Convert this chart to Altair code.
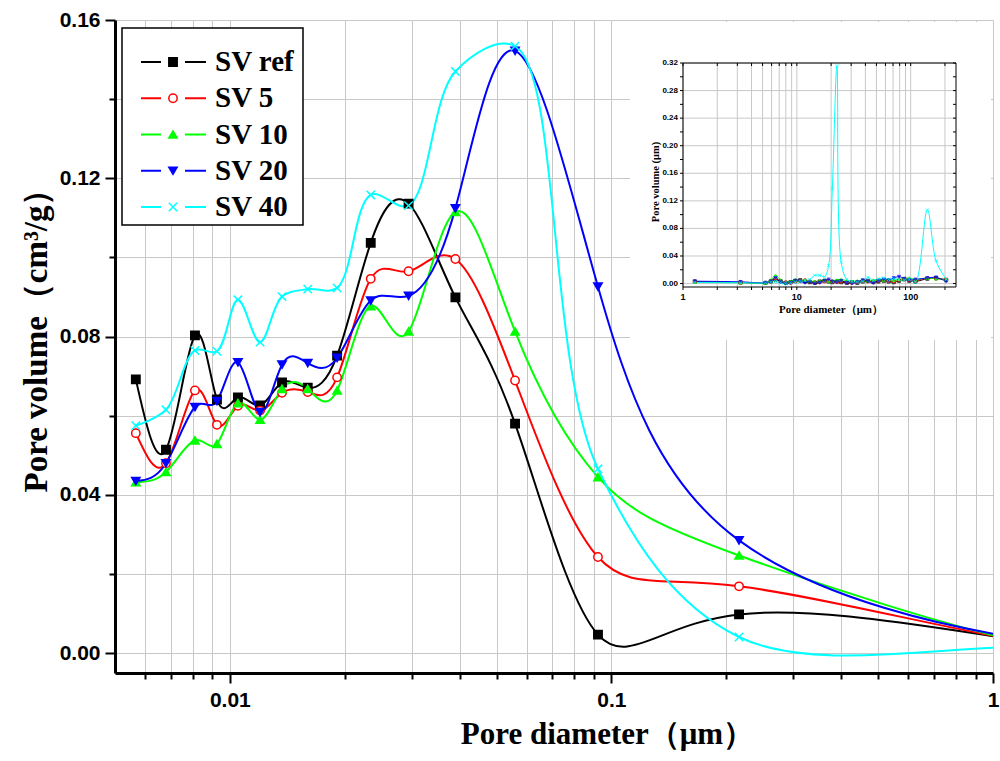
import altair as alt
import pandas as pd

# ---------------- data ----------------
series = ["SV ref", "SV 5", "SV 10", "SV 20", "SV 40"]
colors = ["#000000", "#FF0000", "#00FF00", "#0000FF", "#00FFFF"]
fills = ["#000000", "#FFFFFF", "#00FF00", "#0000FF", "#00FFFF"]
shapes = ["square", "circle", "triangle-up", "triangle-down", "M-1,-1L1,1M-1,1L1,-1"]

# pore diameter (µm) of the main panel
diam = [0.00567, 0.0068, 0.0081, 0.00925, 0.0105, 0.0120, 0.0137, 0.0160,
        0.0191, 0.0234, 0.0294, 0.0390, 0.0559, 0.0922, 0.216]

sv_ref = [0.0692, 0.0514, 0.0803, 0.0641, 0.0646, 0.0626, 0.0684, 0.0671,
          0.0752, 0.1037, 0.1136, 0.0899, 0.0580, 0.0047, 0.0098]
sv_5 = [0.0556, 0.0480, 0.0664, 0.0577, 0.0625, 0.0613, 0.0658, 0.0660,
        0.0697, 0.0946, 0.0965, 0.0996, 0.0689, 0.0243, 0.0169]
sv_10 = [0.0432, 0.0458, 0.0538, 0.0529, 0.0632, 0.0590, 0.0668, 0.0668,
         0.0664, 0.0877, 0.0813, 0.1115, 0.0813, 0.0445, 0.0247]
sv_20 = [0.0435, 0.0480, 0.0622, 0.0637, 0.0735, 0.0609, 0.0729, 0.0733,
         0.0746, 0.0891, 0.0903, 0.1124, 0.1522, 0.0926, 0.0285]
sv_40 = [0.0575, 0.0615, 0.0765, 0.0763, 0.0893, 0.0786, 0.0901, 0.0920,
         0.0923, 0.1158, 0.1131, 0.1470, 0.1534, 0.0466, 0.0041]

# coarse pores (inset panel)
diam_in = [1.27, 3.2, 5.3, 5.9, 6.5, 7.2, 8.0, 8.8, 9.7, 10.7, 11.8, 13.0,
           14.4, 15.9, 17.5, 19.0, 20.5, 22.5, 24.5, 27.5, 30.5, 34.0, 38.0, 42.0,
           47.0, 52.0, 58.0, 64.0, 71.0, 79.0, 88.0, 97.0, 110.0, 140.0, 167.0, 205.0]
sv_ref_in = [0.0029, 0.0015, 0.0010, 0.0030, 0.0060, 0.0035, 0.0010, 0.0020, 0.0040, 0.0050, 0.0030, 0.0020,
             0.0010, 0.0030, 0.0040, 0.0030, 0.0020, 0.0030, 0.0020, 0.0010, 0.0020, 0.0010, 0.0030, 0.0040,
             0.0020, 0.0030, 0.0040, 0.0030, 0.0020, 0.0040, 0.0060, 0.0040, 0.0030, 0.0070, 0.0080, 0.0050]
sv_5_in = [0.0026, 0.0015, 0.0010, 0.0040, 0.0070, 0.0030, 0.0020, 0.0010, 0.0030, 0.0040, 0.0050, 0.0030,
           0.0020, 0.0020, 0.0030, 0.0040, 0.0030, 0.0020, 0.0030, 0.0020, 0.0010, 0.0020, 0.0040, 0.0030,
           0.0030, 0.0040, 0.0050, 0.0040, 0.0030, 0.0050, 0.0070, 0.0050, 0.0040, 0.0080, 0.0070, 0.0060]
sv_10_in = [0.0023, 0.0015, 0.0010, 0.0050, 0.0120, 0.0050, 0.0020, 0.0030, 0.0060, 0.0040, 0.0050, 0.0040,
            0.0030, 0.0040, 0.0050, 0.0030, 0.0040, 0.0050, 0.0060, 0.0040, 0.0030, 0.0040, 0.0050, 0.0040,
            0.0050, 0.0060, 0.0050, 0.0060, 0.0050, 0.0060, 0.0070, 0.0080, 0.0060, 0.0080, 0.0070, 0.0060]
sv_20_in = [0.0034, 0.0025, 0.0010, 0.0030, 0.0080, 0.0020, 0.0000, 0.0010, 0.0040, 0.0030, 0.0010, 0.0020,
            0.0000, 0.0010, 0.0040, 0.0060, 0.0030, 0.0020, 0.0040, 0.0010, 0.0000, 0.0020, 0.0050, 0.0030,
            0.0010, 0.0040, 0.0060, 0.0050, 0.0080, 0.0100, 0.0070, 0.0050, 0.0060, 0.0080, 0.0090, 0.0030]
sv_40_in = [0.0016, 0.0010, 0.0010, 0.0020, 0.0030, 0.0010, 0.0000, 0.0010, 0.0020, 0.0030, 0.0040, 0.0060,
            0.0120, 0.0120, 0.0100, 0.0260, 0.1380, 0.3160, 0.0310, 0.0060, 0.0030, 0.0020, 0.0030, 0.0090,
            0.0040, 0.0070, 0.0080, 0.0060, 0.0070, 0.0060, 0.0050, 0.0060, 0.0020, 0.1070, 0.0330, 0.0060]

x_ticks = [0.006, 0.007, 0.008, 0.009, 0.01, 0.02, 0.03, 0.04, 0.05, 0.06, 0.07, 0.08, 0.09,
           0.1, 0.2, 0.3, 0.4, 0.5, 0.6, 0.7, 0.8, 0.9, 1]
y_ticks = [0.0, 0.02, 0.04, 0.06, 0.08, 0.10, 0.12, 0.14, 0.16]
x_ticks_in = [1, 2, 3, 4, 5, 6, 7, 8, 9, 10, 20, 30, 40, 50, 60, 70, 80, 90, 100, 200]
x_labels_in = [1, 10, 100]
y_ticks_in = [0.0, 0.02, 0.04, 0.06, 0.08, 0.10, 0.12, 0.14, 0.16, 0.18, 0.20, 0.22, 0.24, 0.26, 0.28, 0.30, 0.32]
y_labels_in = [0.0, 0.04, 0.08, 0.12, 0.16, 0.20, 0.24, 0.28, 0.32]

# ---------------- tables ----------------
main_vals = [sv_ref, sv_5, sv_10, sv_20, sv_40]
in_vals = [sv_ref_in, sv_5_in, sv_10_in, sv_20_in, sv_40_in]
rows = []
for s, mv, iv in zip(series, main_vals, in_vals):
    for d, v in zip(diam, mv):
        rows.append({"d": d, "v": v, "series": s})
    for d, v in zip(diam_in, iv):
        rows.append({"d": d, "v": v, "series": s})
df = pd.DataFrame(rows)
df_in = df[df["d"] >= 1].copy()

W, H = 878, 653
SERIF = "Liberation Serif"
SANS = "Liberation Sans"

color_sc = alt.Scale(domain=series, range=colors)
fill_sc = alt.Scale(domain=series, range=fills)
shape_sc = alt.Scale(domain=series, range=shapes)

# ---------------- main panel ----------------
xs = alt.Scale(type="log", domain=[0.005, 1], nice=False)
ys = alt.Scale(domain=[-0.005, 0.16], nice=False, zero=False)

x_axis = alt.Axis(
    values=x_ticks, format="~g",
    labelExpr="(datum.value == 0.01 || datum.value == 0.1 || datum.value == 1) ? datum.label : ''",
    tickSize={"condition": {"test": "datum.value == 0.01 || datum.value == 0.1 || datum.value == 1", "value": 10}, "value": 6},
    tickWidth=2, tickColor="black", domainColor="black", domainWidth=3,
    grid=True, gridColor="#c8c8c8", gridWidth=1,
    labelFont=SANS, labelFontWeight="bold", labelFontSize=21, labelColor="black",
    labelPadding=6, labelOverlap=False, labelFlush=False,
    title="Pore diameter（μm）", titleFont=SERIF, titleFontSize=31, titleFontWeight="bold",
    titleColor="black", titlePadding=9, titleX=492,
)
y_axis = alt.Axis(
    values=y_ticks,
    labelExpr="round(datum.value*100) % 4 == 0 ? format(datum.value, '.2f') : ''",
    tickSize={"condition": {"test": "round(datum.value*100) % 4 == 0", "value": 10}, "value": 6},
    tickWidth=2, tickColor="black", domainColor="black", domainWidth=3,
    grid=True, gridColor="#c8c8c8", gridWidth=1,
    labelFont=SANS, labelFontWeight="bold", labelFontSize=21, labelColor="black",
    labelPadding=5, labelOverlap=False, labelFlush=False,
    title="Pore volume（cm³/g）", titleFont=SERIF, titleFontSize=33, titleFontWeight="bold",
    titleColor="black", titlePadding=6, titleY=312,
)

base = alt.Chart(df)
lines_nat = base.transform_filter(alt.datum.series != "SV 40").mark_line(
    interpolate="natural", strokeWidth=2, clip=True).encode(
    x=alt.X("d:Q", scale=xs, axis=x_axis),
    y=alt.Y("v:Q", scale=ys, axis=y_axis),
    color=alt.Color("series:N", scale=color_sc, legend=None),
    detail="series:N",
)
lines_cr = base.transform_filter(alt.datum.series == "SV 40").mark_line(
    interpolate="catmull-rom", strokeWidth=2, clip=True).encode(
    x=alt.X("d:Q", scale=xs, axis=x_axis),
    y=alt.Y("v:Q", scale=ys, axis=y_axis),
    color=alt.Color("series:N", scale=color_sc, legend=None),
    detail="series:N",
)
points = base.mark_point(filled=False, strokeWidth=1.5, size=70, opacity=1, clip=True).encode(
    x=alt.X("d:Q", scale=xs, axis=x_axis),
    y=alt.Y("v:Q", scale=ys, axis=y_axis),
    stroke=alt.Stroke("series:N", scale=color_sc, legend=None),
    fill=alt.Fill("series:N", scale=fill_sc, legend=None),
    shape=alt.Shape("series:N", scale=shape_sc, legend=None),
)
one = pd.DataFrame({"k": [0]})
inset_bg = alt.Chart(one).mark_rect(fill="white", stroke=None).encode(
    x=alt.value(515), x2=alt.value(876), y=alt.value(2), y2=alt.value(320)
)
main = alt.layer(inset_bg, lines_nat, lines_cr, points)

# ---------------- inset panel (axes drawn with marks) ----------------
IX0, IX1, IY0, IY1 = 568, 841, 43, 267
xsi = alt.Scale(type="log", domain=[1, 250], nice=False, range=[IX0, IX1])
ysi = alt.Scale(domain=[-0.005, 0.32], nice=False, zero=False, range=[IY1, IY0])

gx_df = pd.DataFrame({"t": x_ticks_in})
gy_df = pd.DataFrame({"t": y_labels_in})
xl_df = pd.DataFrame({"t": x_labels_in, "lab": [f"{t:g}" for t in x_labels_in]})
yt_df = pd.DataFrame({"t": y_ticks_in})
yl_df = pd.DataFrame({"t": y_labels_in, "lab": [f"{t:.2f}" for t in y_labels_in]})

gx = alt.Chart(gx_df).mark_rule(color="#c8c8c8", strokeWidth=1).encode(
    x=alt.X("t:Q", scale=xsi, axis=None), y=alt.value(IY0), y2=alt.value(IY1))
gy = alt.Chart(gy_df).mark_rule(color="#c8c8c8", strokeWidth=1).encode(
    y=alt.Y("t:Q", scale=ysi, axis=None), x=alt.value(IX0), x2=alt.value(IX1))
frame_in = alt.Chart(one).mark_rect(fill=None, stroke="black", strokeWidth=1).encode(
    x=alt.value(IX0), x2=alt.value(IX1), y=alt.value(IY0), y2=alt.value(IY1))
xtick_i = alt.Chart(gx_df).mark_rule(color="black", strokeWidth=1).encode(
    x=alt.X("t:Q", scale=xsi, axis=None), y=alt.value(IY1), y2=alt.value(IY1 + 3))
xtick_top = alt.Chart(gx_df).mark_rule(color="black", strokeWidth=1).encode(
    x=alt.X("t:Q", scale=xsi, axis=None), y=alt.value(IY0), y2=alt.value(IY0 + 3))
xlab_i = alt.Chart(xl_df).mark_text(font=SANS, fontWeight="bold", fontSize=9, color="black",
                                    baseline="top").encode(
    x=alt.X("t:Q", scale=xsi, axis=None), y=alt.value(IY1 + 6), text="lab:N")
ytick_i = alt.Chart(yt_df).mark_rule(color="black", strokeWidth=1).encode(
    y=alt.Y("t:Q", scale=ysi, axis=None), x=alt.value(IX0 - 3), x2=alt.value(IX0))
ytick_r = alt.Chart(yt_df).mark_rule(color="black", strokeWidth=1).encode(
    y=alt.Y("t:Q", scale=ysi, axis=None), x=alt.value(IX1 - 3), x2=alt.value(IX1))
ylab_i = alt.Chart(yl_df).mark_text(font=SANS, fontWeight="bold", fontSize=8, color="black",
                                    align="right", baseline="middle").encode(
    y=alt.Y("t:Q", scale=ysi, axis=None), x=alt.value(IX0 - 5), text="lab:N")
xtitle_i = alt.Chart(one).mark_text(text="Pore diameter（μm）", font=SERIF, fontWeight="bold",
                                    fontSize=11, color="black", baseline="middle").encode(
    x=alt.value(716), y=alt.value(IY1 + 23))
ytitle_i = alt.Chart(one).mark_text(text="Pore volume (μm)", font=SERIF, fontWeight="bold",
                                    fontSize=10.5, color="black", angle=270, baseline="middle").encode(
    x=alt.value(IX0 - 27), y=alt.value(162))

ibase = alt.Chart(df_in)
ilines = ibase.mark_line(interpolate="catmull-rom", strokeWidth=1, clip=True).encode(
    x=alt.X("d:Q", scale=xsi, axis=None),
    y=alt.Y("v:Q", scale=ysi, axis=None),
    color=alt.Color("series:N", scale=color_sc, legend=None),
    detail="series:N",
)
ipoints = ibase.mark_point(filled=False, strokeWidth=1, size=10, clip=True).encode(
    x=alt.X("d:Q", scale=xsi, axis=None),
    y=alt.Y("v:Q", scale=ysi, axis=None),
    stroke=alt.Stroke("series:N", scale=color_sc, legend=None),
    fill=alt.Fill("series:N", scale=fill_sc, legend=None),
    shape=alt.Shape("series:N", scale=shape_sc, legend=None),
)
inset = alt.layer(gx, gy, frame_in, xtick_i, xtick_top, xlab_i, ytick_i, ytick_r, ylab_i,
                  xtitle_i, ytitle_i, ilines, ipoints)

# ---------------- legend ----------------
leg_df = pd.DataFrame({"series": series, "row": list(range(len(series)))})
leg_y = alt.Y("row:Q", scale=alt.Scale(domain=[0, 4], range=[42, 187]), axis=None)
leg_box = alt.Chart(one).mark_rect(fill="white", stroke="black", strokeWidth=1.5).encode(
    x=alt.value(7), x2=alt.value(188), y=alt.value(8), y2=alt.value(205)
)
lb = alt.Chart(leg_df)
seg1 = lb.mark_rule(strokeWidth=2).encode(
    x=alt.value(26), x2=alt.value(46), y=leg_y,
    color=alt.Color("series:N", scale=color_sc, legend=None))
seg2 = lb.mark_rule(strokeWidth=2).encode(
    x=alt.value(70), x2=alt.value(91), y=leg_y,
    color=alt.Color("series:N", scale=color_sc, legend=None))
lpts = lb.mark_point(filled=False, strokeWidth=1.5, size=70, opacity=1).encode(
    x=alt.value(58), y=leg_y,
    stroke=alt.Stroke("series:N", scale=color_sc, legend=None),
    fill=alt.Fill("series:N", scale=fill_sc, legend=None),
    shape=alt.Shape("series:N", scale=shape_sc, legend=None),
)
ltext = lb.mark_text(align="left", baseline="middle", font=SERIF, fontWeight="bold",
                     fontSize=29, color="black").encode(
    x=alt.value(100), y=leg_y, text="series:N")
legend = alt.layer(leg_box, seg1, seg2, lpts, ltext)

chart = alt.layer(main, inset, legend).resolve_scale(
    x="independent", y="independent"
).properties(
    width=W, height=H,
    autosize=alt.AutoSizeParams(type="none"),
    padding={"left": 115, "top": 20, "right": 7, "bottom": 88},
).configure_view(stroke="black", strokeWidth=3).configure(background="white")

chart.save("out.html", embed_options={"renderer": "svg", "actions": False})
